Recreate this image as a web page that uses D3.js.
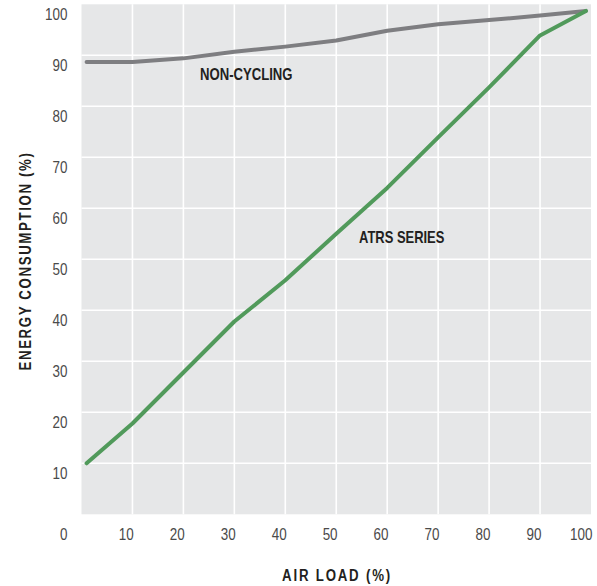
<!DOCTYPE html>
<html>
<head>
<meta charset="utf-8">
<script src="https://cdnjs.cloudflare.com/ajax/libs/d3/7.8.5/d3.min.js"></script>
<style>
  html, body { margin: 0; background: #fff; }
  svg { display: block; }
  .tick text, .zero { font-family: "Liberation Sans", Arial, sans-serif; font-size: 16px; fill: #4a4a4a; }
  .lbl { font-family: "Liberation Sans", Arial, sans-serif; font-weight: bold; fill: #231f20; }
</style>
</head>
<body>
<svg id="chart" width="597" height="586"></svg>
<script>
// air load (%) sample points
var load = [1, 10, 20, 30, 40, 50, 60, 70, 80, 90, 99];
// energy consumption (%)
var nonCycling = [88.7, 88.7, 89.4, 90.7, 91.7, 92.9, 94.8, 96.1, 96.9, 97.8, 98.7];
var atrsSeries = [10, 17.8, 27.8, 37.8, 45.9, 55.0, 64.0, 73.9, 83.7, 93.9, 98.7];
var xTicks = [10, 20, 30, 40, 50, 60, 70, 80, 90, 100];
var yTicks = [10, 20, 30, 40, 50, 60, 70, 80, 90, 100];

var W = 597, H = 586;
var margin = {left: 81.5, top: 4.3, right: 6, bottom: 71.7};
var w = W - margin.left - margin.right,
    h = H - margin.top - margin.bottom;
var NARROW = 0.84; // condensed look for the tick numbers

var svg = d3.select("#chart");
var g = svg.append("g").attr("transform", "translate(" + margin.left + "," + margin.top + ")");

var x = d3.scaleLinear().domain([0, 100]).range([0, w]);
var y = d3.scaleLinear().domain([0, 100]).range([h, 0]);

// background panel
g.append("rect").attr("x", 0).attr("y", 0).attr("width", w).attr("height", h).attr("fill", "#e6e7e8");

// grid
g.selectAll("line.vg").data(xTicks.filter(function (d) { return d < 100; })).enter().append("line")
  .attr("class", "vg")
  .attr("x1", function (d) { return x(d); }).attr("x2", function (d) { return x(d); })
  .attr("y1", 0).attr("y2", h)
  .attr("stroke", "#fff").attr("stroke-width", 1.6);
g.selectAll("line.hg").data(yTicks.filter(function (d) { return d < 100; })).enter().append("line")
  .attr("class", "hg")
  .attr("y1", function (d) { return y(d); }).attr("y2", function (d) { return y(d); })
  .attr("x1", 0).attr("x2", w)
  .attr("stroke", "#fff").attr("stroke-width", 1.6);

// axes (labels only)
var yAxis = g.append("g").call(d3.axisLeft(y).tickValues(yTicks).tickSize(0));
yAxis.select(".domain").remove();
yAxis.selectAll(".tick text")
  .attr("x", -14 / NARROW).attr("dy", "0.95em")
  .attr("transform", "scale(" + NARROW + ",1)");

var xAxis = g.append("g").attr("transform", "translate(0," + h + ")")
  .call(d3.axisBottom(x).tickValues(xTicks).tickSize(0).tickPadding(14));
xAxis.select(".domain").remove();
xAxis.selectAll(".tick text").attr("text-anchor", "end").attr("x", 1)
  .attr("transform", "scale(" + NARROW + ",1)");

// corner zero
g.append("text").attr("class", "zero")
  .attr("transform", "translate(-14," + (h + 26) + ") scale(" + NARROW + ",1)")
  .attr("text-anchor", "end")
  .text("0");

// series
var line = d3.line()
  .x(function (d, i) { return x(load[i]); })
  .y(function (d) { return y(d); });

g.append("path").datum(nonCycling).attr("d", line)
  .attr("fill", "none").attr("stroke", "#7e7e81").attr("stroke-width", 4)
  .attr("stroke-linecap", "round").attr("stroke-linejoin", "round");
g.append("path").datum(atrsSeries).attr("d", line)
  .attr("fill", "none").attr("stroke", "#519a5b").attr("stroke-width", 4)
  .attr("stroke-linecap", "round").attr("stroke-linejoin", "round");

// labels, squeezed horizontally to mimic the condensed face
function label(tx, ty, rot, sx, size, ls, anchor, txt) {
  svg.append("text").attr("class", "lbl")
    .attr("transform", "translate(" + tx + "," + ty + ") rotate(" + rot + ") scale(" + sx + ",1)")
    .attr("text-anchor", anchor)
    .style("font-size", size + "px")
    .style("letter-spacing", ls + "px")
    .text(txt);
}
label(200, 79.5, 0, 0.82, 16, 0, "start", "NON-CYCLING");
label(359, 243, 0, 0.81, 16, 0, "start", "ATRS SERIES");
label(337, 580.5, 0, 0.78, 17, 2.3, "middle", "AIR LOAD (%)");
label(31, 261, -90, 0.78, 17, 2.1, "middle", "ENERGY CONSUMPTION (%)");
</script>
</body>
</html>
